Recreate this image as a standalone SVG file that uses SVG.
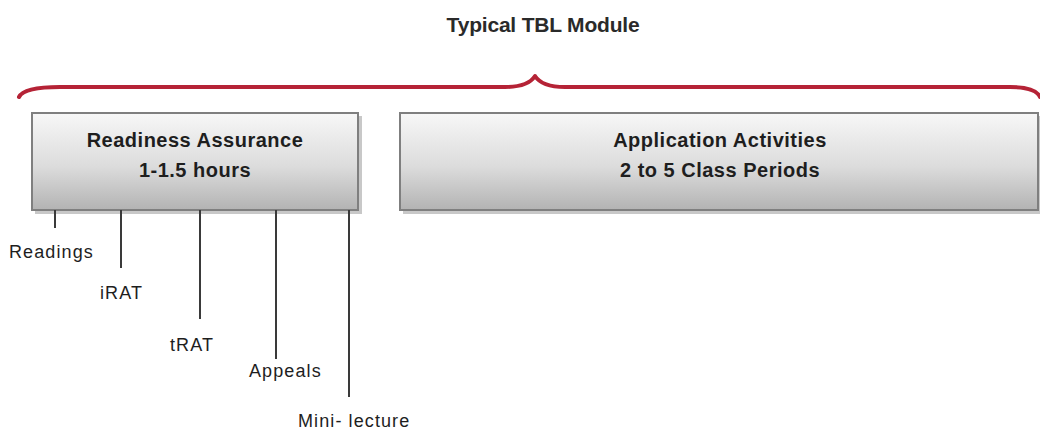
<svg xmlns="http://www.w3.org/2000/svg" width="1040" height="430" viewBox="0 0 1040 430">
<style>
.title{font-family:"Liberation Sans",Arial,sans-serif;font-weight:bold;font-size:21px;fill:#2a2a2a;letter-spacing:-0.2px}
.box{fill:url(#g);stroke:#7f7f7f;stroke-width:2}
.shadow{fill:#c8c8c8}
.bt{font-family:"Liberation Sans",Arial,sans-serif;font-weight:bold;font-size:20px;fill:#1e1e1e;letter-spacing:0.5px}
.lbl{font-family:"Liberation Sans",Arial,sans-serif;font-size:18px;fill:#1e1e1e;letter-spacing:1.1px}
.tick{stroke:#3a3a3a;stroke-width:2;fill:none}
.brace{stroke:#b52336;stroke-width:4;fill:none;stroke-linecap:round;stroke-linejoin:round}
</style>
<defs>
<linearGradient id="g" x1="0" y1="0" x2="0" y2="1">
<stop offset="0" stop-color="#f7f7f7"/>
<stop offset="0.55" stop-color="#dcdcdc"/>
<stop offset="1" stop-color="#b3b3b3"/>
</linearGradient>
</defs>
<text class="title" x="543" y="32" text-anchor="middle">Typical TBL Module</text>
<path class="brace" d="M19 97 Q24 87 60 87 L505 87 Q528 87 535 76 Q542 87 565 87 L1010 87 Q1036 87 1040 97"/>
<g id="readiness">
<rect class="shadow" x="35" y="116" width="327" height="98"/>
<rect class="box" x="32" y="113" width="326" height="97"/>
<text class="bt" x="195" y="147" text-anchor="middle">Readiness Assurance</text>
<text class="bt" x="195" y="177" text-anchor="middle">1-1.5 hours</text>
</g>
<g id="application">
<rect class="shadow" x="403" y="116" width="640" height="98"/>
<rect class="box" x="400" y="113" width="638" height="97"/>
<text class="bt" x="720" y="147" text-anchor="middle">Application Activities</text>
<text class="bt" x="720" y="177" text-anchor="middle">2 to 5 Class Periods</text>
</g>
<g id="connectors">
<line class="tick" x1="55" y1="210" x2="55" y2="228"/>
<line class="tick" x1="121" y1="210" x2="121" y2="268"/>
<line class="tick" x1="200" y1="210" x2="200" y2="319"/>
<line class="tick" x1="276" y1="210" x2="276" y2="359"/>
<line class="tick" x1="349" y1="210" x2="349" y2="397"/>
</g>
<g id="labels">
<text class="lbl" x="9" y="258">Readings</text>
<text class="lbl" x="100" y="299">iRAT</text>
<text class="lbl" x="170" y="351">tRAT</text>
<text class="lbl" x="249" y="377">Appeals</text>
<text class="lbl" x="298" y="427">Mini- lecture</text>
</g>
</svg>
